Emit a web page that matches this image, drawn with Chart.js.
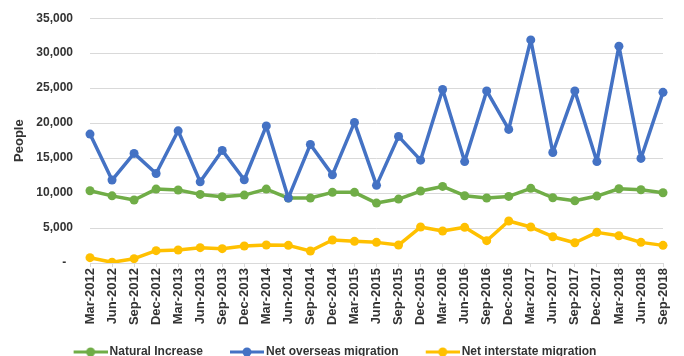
<!DOCTYPE html>
<html>
<head>
<meta charset="utf-8">
<script src="https://cdn.jsdelivr.net/npm/chart.js@4.4.1/dist/chart.umd.min.js"></script>
<style>
  html, body { margin: 0; padding: 0; background: #fff; overflow: hidden; }
  #wrap { position: relative; width: 684px; height: 374px; margin-top: -6px; }
</style>
</head>
<body>
<div id="wrap"><canvas id="grafico"></canvas></div>
<script>
const trimestres = [
  "Mar-2012", "Jun-2012", "Sep-2012", "Dec-2012",
  "Mar-2013", "Jun-2013", "Sep-2013", "Dec-2013",
  "Mar-2014", "Jun-2014", "Sep-2014", "Dec-2014",
  "Mar-2015", "Jun-2015", "Sep-2015", "Dec-2015",
  "Mar-2016", "Jun-2016", "Sep-2016", "Dec-2016",
  "Mar-2017", "Jun-2017", "Sep-2017", "Dec-2017",
  "Mar-2018", "Jun-2018", "Sep-2018"
];

const naturalIncrease = [
  10330, 9600, 9000, 10570,
  10430, 9810, 9480, 9710,
  10570, 9290, 9290, 10100,
  10100, 8570, 9140, 10290,
  10950, 9620, 9290, 9520,
  10670, 9330, 8900, 9570,
  10620, 10480, 10050
];

const netOverseas = [
  18430, 11860, 15670, 12800,
  18900, 11600, 16100, 11900,
  19600, 9300, 16950, 12600,
  20100, 11100, 18100, 14700,
  24800, 14500, 24600, 19100,
  31900, 15800, 24600, 14500,
  31000, 14950, 24400
];

const netInterstate = [
  760, 100, 620, 1760,
  1860, 2190, 2050, 2430,
  2570, 2520, 1710, 3290,
  3100, 2950, 2570, 5140,
  4570, 5100, 3190, 6000,
  5140, 3760, 2900, 4380,
  3900, 2950, 2520
];

const colores = {
  verde: "#70AD47",
  azul: "#4472C4",
  amarillo: "#FFC000"
};

const fuente = "'Liberation Sans', Arial, sans-serif";
const textoColor = "#333333";
const gridColor = "#D9D9D9";

// legend swatch: transparent lead-in, then a line with a dot on it
function muestra(color) {
  const c = document.createElement("canvas");
  c.width = 55;
  c.height = 10;
  const ctx = c.getContext("2d");
  ctx.strokeStyle = color;
  ctx.lineWidth = 3;
  ctx.beginPath();
  ctx.moveTo(21, 5);
  ctx.lineTo(55, 5);
  ctx.stroke();
  ctx.fillStyle = color;
  ctx.beginPath();
  ctx.arc(38, 5, 4.5, 0, Math.PI * 2);
  ctx.fill();
  return c;
}

function serie(nombre, datos, color, orden) {
  return {
    label: nombre,
    data: datos,
    borderColor: color,
    backgroundColor: color,
    borderWidth: 3.5,
    borderJoinStyle: "round",
    borderCapStyle: "round",
    pointRadius: 4.5,
    pointHoverRadius: 5,
    pointBackgroundColor: color,
    pointBorderColor: color,
    pointBorderWidth: 0,
    tension: 0,
    order: orden,
    legendIcon: muestra(color)
  };
}

// nudge the legend row a few px to the left
const correrLeyenda = {
  id: "correrLeyenda",
  afterLayout(chart) {
    if (!chart.legend) return;
    chart.legend.left -= 5;
    chart.legend.right -= 5;
  }
};

const ctx = document.getElementById("grafico").getContext("2d");
new Chart(ctx, {
  type: "line",
  data: {
    labels: trimestres,
    datasets: [
      serie("Natural Increase", naturalIncrease, colores.verde, 1),
      serie("Net overseas migration", netOverseas, colores.azul, 0),
      serie("Net interstate migration", netInterstate, colores.amarillo, 2)
    ]
  },
  plugins: [correrLeyenda],
  options: {
    responsive: true,
    maintainAspectRatio: false,
    animation: false,
    layout: { padding: { top: 5, right: 21, left: 0, bottom: 0 } },
    plugins: {
      tooltip: { enabled: false },
      legend: {
        position: "bottom",
        labels: {
          font: { family: fuente, size: 12, weight: "bold" },
          color: textoColor,
          usePointStyle: true,
          pointStyleWidth: 47,
          padding: 10,
          sort: (a, b) => a.datasetIndex - b.datasetIndex,
          generateLabels: chart => {
            const items = Chart.defaults.plugins.legend.labels.generateLabels(chart);
            items.forEach(it => {
              it.pointStyle = chart.data.datasets[it.datasetIndex].legendIcon;
            });
            return items;
          }
        }
      }
    },
    scales: {
      x: {
        offset: false,
        grid: {
          drawOnChartArea: false,
          drawTicks: true,
          tickLength: 4,
          color: gridColor
        },
        border: { color: gridColor, width: 1 },
        ticks: {
          autoSkip: false,
          minRotation: 90,
          maxRotation: 90,
          padding: 1,
          color: textoColor,
          font: { family: fuente, size: 13, weight: "bold" }
        },
        afterFit: scale => { scale.height = 73; }
      },
      y: {
        min: 0,
        max: 35000,
        grid: { color: gridColor, drawTicks: false },
        border: { display: false },
        ticks: {
          stepSize: 5000,
          padding: 17,
          color: textoColor,
          font: { family: fuente, size: 12, weight: "bold" },
          callback: v => v === 0 ? "-  " : v.toLocaleString("en-US")
        },
        title: {
          display: true,
          text: "People",
          color: textoColor,
          font: { family: fuente, size: 13, weight: "bold" },
          padding: { top: 12, bottom: 0 }
        },
        afterFit: scale => { scale.width = 90; }
      }
    }
  }
});
</script>
</body>
</html>
